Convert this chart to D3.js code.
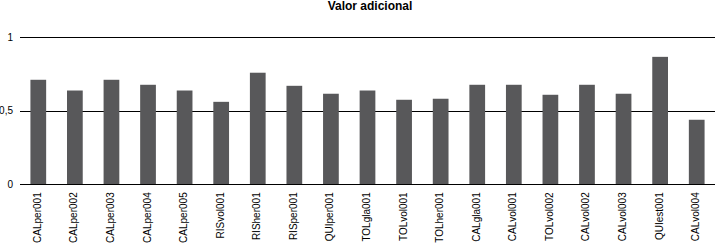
<!DOCTYPE html>
<html>
<head>
<meta charset="utf-8">
<script src="https://cdn.jsdelivr.net/npm/d3@7"></script>
<style>
  body { margin: 0; background: #fff; }
  svg { display: block; font-family: "Liberation Sans Narrow", "Liberation Sans", sans-serif; }
</style>
</head>
<body>
<div id="chart"></div>
<script>
const categories = ['CALper001', 'CALper002', 'CALper003', 'CALper004', 'CALper005',
  'RISvol001', 'RISher001', 'RISper001', 'QUIper001', 'TOLgla001', 'TOLvol001',
  'TOLher001', 'CALgla001', 'CALvol001', 'TOLvol002', 'CALvol002', 'CALvol003',
  'QUIest001', 'CALvol004'];
const values = [0.711, 0.638, 0.711, 0.677, 0.638, 0.561, 0.759, 0.670, 0.616,
  0.638, 0.575, 0.582, 0.677, 0.677, 0.609, 0.677, 0.616, 0.867, 0.439];
const yTicks = [0, 0.5, 1];
const yTickLabels = ['0', '0,5', '1'];
const title = 'Valor adicional';

const width = 720;
const height = 247;
const margin = {top: 37.3, right: 5, bottom: 62.7, left: 20};

const svg = d3.select('#chart')
    .append('svg')
    .attr('width', width)
    .attr('height', height);

const x = d3.scaleBand()
    .domain(categories)
    .range([margin.left, width - margin.right])
    .paddingInner(0.57)
    .paddingOuter(0.285);

const y = d3.scaleLinear()
    .domain([0, 1])
    .range([height - margin.bottom, margin.top]);

// gridlines
svg.append('g')
    .selectAll('line')
    .data(yTicks)
    .join('line')
    .attr('x1', margin.left)
    .attr('x2', width - margin.right)
    .attr('y1', (d) => Math.round(y(d)) + 0.5)
    .attr('y2', (d) => Math.round(y(d)) + 0.5)
    .attr('stroke', '#000')
    .attr('stroke-width', 1.2);

// y labels
svg.append('g')
    .selectAll('text')
    .data(yTicks)
    .join('text')
    .attr('x', 13)
    .attr('y', (d) => y(d))
    .attr('dy', '0.35em')
    .attr('text-anchor', 'end')
    .attr('font-size', 10)
    .attr('fill', '#000')
    .text((d, i) => yTickLabels[i]);

// bars
svg.append('g')
    .selectAll('rect')
    .data(values)
    .join('rect')
    .attr('x', (d, i) => x(categories[i]))
    .attr('width', x.bandwidth())
    .attr('y', (d) => y(d))
    .attr('height', (d) => y(0) - y(d))
    .attr('fill', '#58585a');

// redraw the zero line over the bars
svg.append('line')
    .attr('x1', margin.left)
    .attr('x2', width - margin.right)
    .attr('y1', Math.round(y(0)) + 0.5)
    .attr('y2', Math.round(y(0)) + 0.5)
    .attr('stroke', '#000')
    .attr('stroke-width', 1.2);

// x labels
svg.append('g')
    .selectAll('text')
    .data(categories)
    .join('text')
    .attr('transform', (d) =>
      `translate(${x(d) + x.bandwidth() / 2 - 1},${y(0) + 8}) rotate(-90)`)
    .attr('dy', '0.35em')
    .attr('text-anchor', 'end')
    .attr('font-size', 10)
    .attr('fill', '#000')
    .text((d) => d);

svg.append('text')
    .attr('x', 370)
    .attr('y', 10)
    .attr('text-anchor', 'middle')
    .attr('font-size', 12)
    .attr('font-weight', 'bold')
    .attr('fill', '#000')
    .text(title);
</script>
</body>
</html>
